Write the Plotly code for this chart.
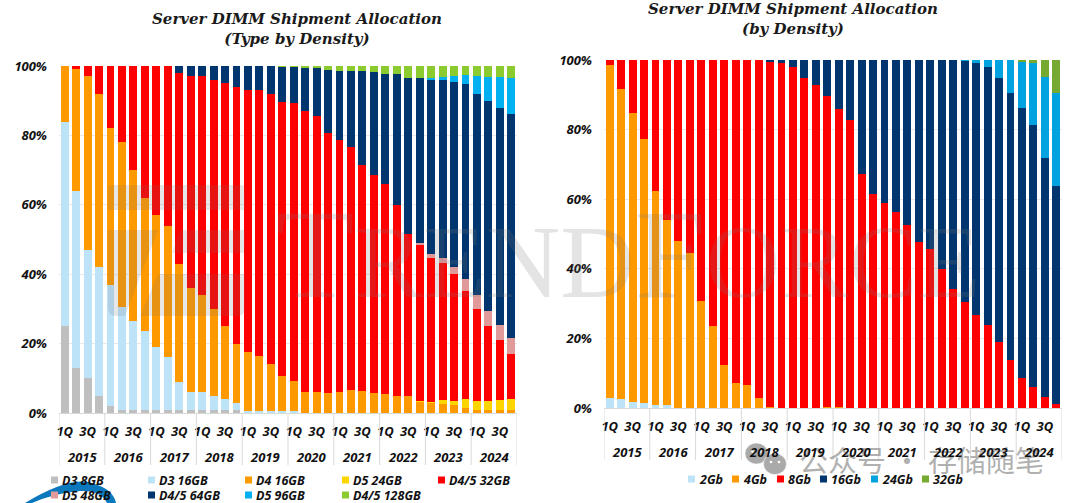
import re
import plotly.graph_objects as go

W, H = 1080, 503
years = [2015, 2016, 2017, 2018, 2019, 2020, 2021, 2022, 2023, 2024]
quarters = [1, 2, 3, 4]
categories = [f"{y} {q}Q" for y in years for q in quarters]
percent_ticks = [0, 20, 40, 60, 80, 100]
percent_labels = ["0%", "20%", "40%", "60%", "80%", "100%"]

d3_8gb = [25,13,10,5,2,1,1,1,1,1,1,1,1,1,1,1,0.2,0.2,0.2,0.2,0.2,0,0,0,0,0,0,0,0,0,0,0,0,0,0,0,0,0,0,0]
d3_16gb = [59,51,37,37,35,29.5,25.5,22.5,18,15,8,5,5,4,3,2,0.3,0.3,0.3,0.3,0.3,0,0,0,0,0,0,0,0,0,0,0,0,0,0,0,0,0,0,0]
d4_16gb = [16,35,50,50,45,47.5,43.5,38.5,38,38,34,30,28,25,21,17,17,16,13.5,10.3,8.8,6,6,5.7,6,6.5,6.3,5.8,5.5,4.9,4.9,3.2,2.9,2.5,2.2,1.5,1,1,1,1]
d5_24gb = [0,0,0,0,0,0,0,0,0,0,0,0,0,0,0,0,0,0,0,0,0,0,0,0,0,0,0,0,0,0,0,0.3,0.4,1.3,1.4,2.5,2.5,2.5,2.8,3]
d45_32gb = [0,1,3,8,18,22,30,38,43,46,55,61,63,66,70,74,75.5,76.5,78,78.9,80,81,79.7,75,72.8,70.1,65.3,62.7,60.5,54.9,46.7,45,41.5,39.4,36.4,31.2,26.5,21.5,17.2,13]
d5_48gb = [0,0,0,0,0,0,0,0,0,0,0,0,0,0,0,0,0,0,0,0,0,0,0,0,0,0,0,0,0,0,0,0.5,1.1,1.5,2.1,3.4,4,4.3,4.4,4.7]
d45_64gb = [0,0,0,0,0,0,0,0,0,0,2,3,3,4,5,6,7,7,8,10.1,10.5,12.6,13.6,18.1,19.8,22,27,29.9,31.7,37.9,45,47.6,50.3,51.3,53.2,56.3,58,60.7,62.6,64.6]
d5_96gb = [0,0,0,0,0,0,0,0,0,0,0,0,0,0,0,0,0,0,0,0,0,0,0,0,0,0,0,0,0,0,0,0,0.4,0.9,1.9,2.6,5,6.9,8.7,10.1]
d45_128gb = [0,0,0,0,0,0,0,0,0,0,0,0,0,0,0,0,0,0,0,0.2,0.2,0.4,0.7,1.2,1.4,1.4,1.4,1.6,2.3,2.3,3.4,3.4,3.4,3.1,2.8,2.5,3,3.1,3.3,3.6]

gb2 = [3,2.6,1.6,1.4,0.8,0.9,0,0,0,0,0,0,0,0,0,0,0,0,0,0,0,0,0,0,0,0,0,0,0,0,0,0,0,0,0,0,0,0,0,0]
gb4 = [95.7,89.1,83.2,75.9,61.5,53.1,48,44.5,30.8,23.5,12.4,7.1,6.5,2.9,0.2,0.1,0.1,0.1,0.1,0.2,0.2,0,0,0,0,0,0,0,0,0,0,0,0,0,0,0,0,0,0,0]
gb8 = [1.3,8.3,15.2,22.7,37.7,46,52,55.5,69.2,76.5,87.6,92.9,93.5,97.1,99.2,98.9,97.9,94.6,92.6,89.6,85.8,82.9,67.3,61.5,58.8,56.2,52.6,47.6,45.8,40,34.2,30.4,26.8,23.9,19,13.9,8.7,6.1,3.2,1.2]
gb16 = [0,0,0,0,0,0,0,0,0,0,0,0,0,0,0.6,1,2,5.3,7.3,10.2,14,17.1,32.7,38.5,41.2,43.8,47.4,52.4,54.2,60,65.8,69.4,72.4,74.2,75.8,76.6,77.6,75.3,68.6,62.5]
gb24 = [0,0,0,0,0,0,0,0,0,0,0,0,0,0,0,0,0,0,0,0,0,0,0,0,0,0,0,0,0,0,0,0.2,0.8,1.9,5.2,9.5,13.4,17.6,23.4,26.8]
gb32 = [0,0,0,0,0,0,0,0,0,0,0,0,0,0,0,0,0,0,0,0,0,0,0,0,0,0,0,0,0,0,0,0,0,0,0,0,0.3,1,4.8,9.5]

left_series = [("D3 8GB", d3_8gb, "#bfbfbf"), ("D3 16GB", d3_16gb, "#bde3f9"), ("D4 16GB", d4_16gb, "#ff9900"),
               ("D5 24GB", d5_24gb, "#ffd500"), ("D4/5 32GB", d45_32gb, "#ff0000"), ("D5 48GB", d5_48gb, "#e09a9a"),
               ("D4/5 64GB", d45_64gb, "#00366f"), ("D5 96GB", d5_96gb, "#00b0f0"), ("D4/5 128GB", d45_128gb, "#8ccb2f")]
right_series = [("2Gb", gb2, "#bde3f9"), ("4Gb", gb4, "#ff9900"), ("8Gb", gb8, "#ff0000"),
                ("16Gb", gb16, "#00366f"), ("24Gb", gb24, "#00a3e0"), ("32Gb", gb32, "#76a92f")]

left_title = "Server DIMM Shipment Allocation<br>(Type by Density)"
right_title = "Server DIMM Shipment Allocation<br>(by Density)"
watermark = '<span style="font-size:128px">T</span>REND<span style="font-size:128px">F</span>ORCE'
wechat_text = "公众号 · 存储随笔"

def px(x): return x / W
def py(y): return 1 - y / H

LABEL_FONT = dict(family="Open Sans", size=13, color="#111111", style="italic", weight=700)
LEGEND_FONT = dict(family="Open Sans", size=12.5, color="#111111", style="italic", weight=700)
GRID = "#e8e8e8"

fig = go.Figure()
for name, vals, col in left_series:
    fig.add_bar(x=categories, y=vals, name=name, marker=dict(color=col, line_width=0),
                xaxis="x", yaxis="y", showlegend=False)
for name, vals, col in right_series:
    fig.add_bar(x=categories, y=vals, name=name, marker=dict(color=col, line_width=0),
                xaxis="x2", yaxis="y2", showlegend=False)

def xaxis(x0, x1, anchor):
    return dict(domain=[px(x0), px(x1)], type="category", categoryorder="array", categoryarray=categories,
                range=[-0.5, 39.5], tickmode="array", tickvals=[c for c in categories if c[-2:] in ("1Q", "3Q")],
                ticktext=[c[-2:] for c in categories if c[-2:] in ("1Q", "3Q")], tickangle=0,
                tickfont=LABEL_FONT, ticks="", ticklabelstandoff=6, showgrid=False, automargin=False, anchor=anchor,
                showline=True, linecolor="#d9d9d9", linewidth=1, zeroline=False)

def yaxis(y_top, y_bot, anchor):
    return dict(domain=[py(y_bot), py(y_top)], range=[0, 100], tickmode="array", tickvals=percent_ticks,
                ticktext=percent_labels, tickfont=LABEL_FONT, ticks="", ticklabelstandoff=11, showgrid=True,
                gridcolor=GRID, gridwidth=1, zeroline=False, showline=False, anchor=anchor, automargin=False)

shapes, ann = [], []

# logo watermark in the left chart
LOGO = "rgba(110,110,110,0.17)"
for p in ["M112 185 H241 Q245 185 245 189 V210 H108 V189 Q108 185 112 185 Z",
          "M108 230 H158 L125 316 H116 Q108 316 108 308 Z",
          "M180 230 H245 V253 H172 Z",
          "M158 274 H245 V308 Q245 316 237 316 H140 Z"]:
    shapes.append(dict(type="path", path=p, xref="paper", yref="paper", fillcolor=LOGO, line_width=0))

ann.append(dict(text=watermark, x=px(628), y=py(327), xref="paper", yref="paper", xanchor="center", yanchor="bottom",
                showarrow=False, font=dict(family="Liberation Serif", size=103, color="rgba(120,120,120,0.2)")))

# year dividers and labels
for xref, y_axis, y_end, y_lab in [("x", 413, 465, 457), ("x2", 408, 460, 452)]:
    for i in range(len(years) + 1):
        shapes.append(dict(type="line", xref=xref, yref="paper", x0=i * 4 - 0.5, x1=i * 4 - 0.5,
                           y0=py(y_axis), y1=py(y_end), line=dict(color="#d9d9d9", width=1)))

# blue swoosh at the lower left
shapes.append(dict(type="path", xref="paper", yref="paper", fillcolor="#0a78bd", line_width=0,
                   path="M25 503 Q70 476 92 483 Q113 489 116 503 H107 Q101 490 80 491 Q55 493 32 503 Z"))

# WeChat mark: two bubbles, each with two eyes
for cx, cy, r in [(756.5, 453.5, 11.5), (775, 464, 11.5)]:
    shapes.append(dict(type="circle", xref="paper", yref="paper", x0=px(cx - r), x1=px(cx + r), y0=py(cy - r * 0.92),
                       y1=py(cy + r * 0.92), fillcolor="rgba(165,165,165,0.95)", line=dict(color="white", width=0.6)))
    for ex in (cx - 4, cx + 4):
        shapes.append(dict(type="circle", xref="paper", yref="paper", x0=px(ex - 1.3), x1=px(ex + 1.3), y0=py(cy - 3.3),
                           y1=py(cy - 0.7), fillcolor="white", line_width=0))

ann.append(dict(text=wechat_text, x=px(797), y=py(459), xref="paper", yref="paper", xanchor="left", yanchor="middle",
                showarrow=False, font=dict(family="Noto Sans CJK SC", size=29, color="rgba(150,150,150,0.75)")))

# year labels
for xref, y_lab in [("x", 457), ("x2", 452)]:
    for i, yr in enumerate(years):
        ann.append(dict(text=str(yr), x=i * 4 + 1.5, xref=xref, y=py(y_lab), yref="paper", showarrow=False,
                        xanchor="center", yanchor="middle", font=LABEL_FONT))

# hand-placed legends
left_legend_x = [51, 148, 245, 342, 438]
for k, (name, _, col) in enumerate(left_series):
    row, c = divmod(k, 5)
    sx = left_legend_x[c]
    sy = 480 + row * 15
    shapes.append(dict(type="rect", xref="paper", yref="paper", x0=px(sx), x1=px(sx + 7), y0=py(sy - 3.5), y1=py(sy + 3.5),
                       fillcolor=col, line_width=0))
    ann.append(dict(text=name, x=px(sx + 8.5), y=py(sy), xref="paper", yref="paper", xanchor="left", yanchor="middle",
                    showarrow=False, font=LEGEND_FONT))
right_legend_x = [688, 732, 777, 820, 871, 922]
for k, (name, _, col) in enumerate(right_series):
    sx = right_legend_x[k]
    sy = 479
    shapes.append(dict(type="rect", xref="paper", yref="paper", x0=px(sx), x1=px(sx + 7), y0=py(sy - 3.5), y1=py(sy + 3.5),
                       fillcolor=col, line_width=0))
    ann.append(dict(text=name, x=px(sx + 8.5), y=py(sy), xref="paper", yref="paper", xanchor="left", yanchor="middle",
                    showarrow=False, font=LEGEND_FONT))

# titles
TITLE_FONT = dict(family="DejaVu Serif", size=15, color="#1a1a1a", style="italic", weight=700)
ann.append(dict(text=left_title, x=px(297), y=py(28.5), xref="paper", yref="paper", xanchor="center", yanchor="middle",
                showarrow=False, font=TITLE_FONT))
ann.append(dict(text=right_title, x=px(793), y=py(19.5), xref="paper", yref="paper", xanchor="center", yanchor="middle",
                showarrow=False, font=TITLE_FONT))

# convert the pixel paths of the decorative shapes to paper coordinates
def convert(path):
    tokens = re.findall(r"[MLHVQZ]|-?\d+\.?\d*", path)
    out, i, cmd = [], 0, None
    while i < len(tokens):
        t = tokens[i]
        if t.isalpha():
            cmd = t; i += 1
            if cmd == "Z": out.append("Z")
            continue
        if cmd == "H":
            out.append(f"H{px(float(t)):.5f}"); i += 1
        elif cmd == "V":
            out.append(f"V{py(float(t)):.5f}"); i += 1
        elif cmd in "ML":
            out.append(f"{cmd}{px(float(t)):.5f},{py(float(tokens[i+1])):.5f}"); i += 2
            if cmd == "M": cmd = "L"
        elif cmd == "Q":
            out.append(f"Q{px(float(t)):.5f},{py(float(tokens[i+1])):.5f} {px(float(tokens[i+2])):.5f},{py(float(tokens[i+3])):.5f}"); i += 4
    return " ".join(out)
for s in shapes:
    if s["type"] == "path":
        s["path"] = convert(s["path"])

fig.update_layout(width=W, height=H, margin=dict(l=0, r=0, t=0, b=0, autoexpand=False), barmode="stack", bargap=0.31,
                  paper_bgcolor="white", plot_bgcolor="white", showlegend=False, shapes=shapes, annotations=ann,
                  xaxis=xaxis(59, 517, "y"), yaxis=yaxis(66, 413, "x"),
                  xaxis2=xaxis(604, 1062, "y2"), yaxis2=yaxis(60, 408, "x2"))

fig.write_html("out.html", config=dict(displayModeBar=False),
               post_script="document.body.style.margin='0';document.body.style.overflow='hidden';")
